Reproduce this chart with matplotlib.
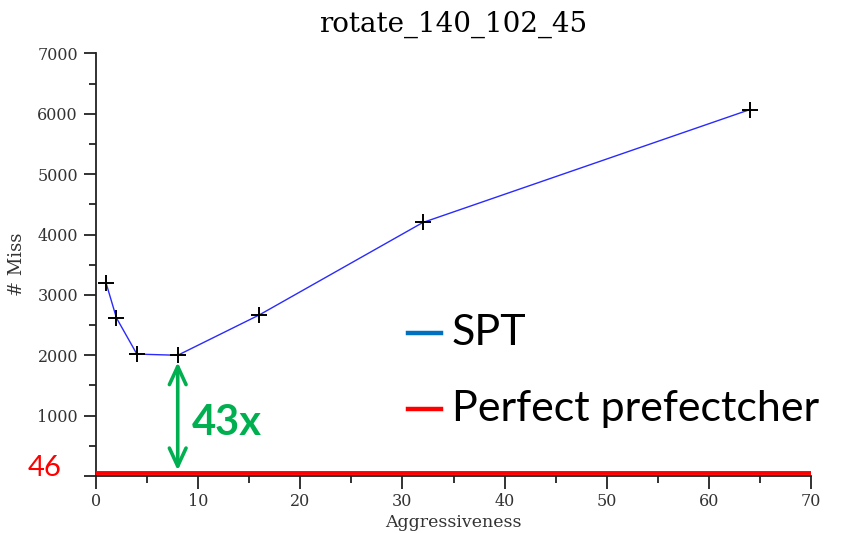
import matplotlib
matplotlib.use("Agg")
import matplotlib.pyplot as plt
from matplotlib.ticker import MultipleLocator, FuncFormatter

# Misses per aggressiveness setting
aggressiveness = [1, 2, 4, 8, 16, 32, 64]
spt_miss = [3190, 2620, 2020, 2000, 2670, 4200, 6070]
perfect_miss = 46
perfect_x = [0, 70]
speedup_label = "43x"

title = "rotate_140_102_45"
x_label = "Aggressiveness"
y_label = "# Miss"
legend_labels = ["SPT", "Perfect prefectcher"]

W, H = 846, 533
fig = plt.figure(figsize=(W / 100, H / 100), dpi=100)
ax = fig.add_axes([96 / W, 1 - 476 / H, (811 - 96) / W, (476 - 53.5) / H])

serif = "DejaVu Serif"
callout = "Lato"

ax.plot(perfect_x, [perfect_miss] * 2, color="#ff0000", lw=2.8, zorder=3,
        solid_capstyle="butt")
ax.plot(aggressiveness, spt_miss, color="#2a2aff", lw=1.0, zorder=4)
ax.plot(aggressiveness, spt_miss, ls="none", marker="+", ms=12, mew=1.4,
        color="black", zorder=5)

ax.set_xlim(0, 70)
ax.set_ylim(0, 7000)
ax.xaxis.set_major_locator(MultipleLocator(10))
ax.xaxis.set_minor_locator(MultipleLocator(5))
ax.yaxis.set_major_locator(MultipleLocator(1000))
ax.yaxis.set_minor_locator(MultipleLocator(500))
# The zero row is labelled by the perfect-prefetcher value instead
ax.yaxis.set_major_formatter(FuncFormatter(lambda v, p: "" if v == 0 else f"{v:.0f}"))

for side in ("top", "right"):
    ax.spines[side].set_visible(False)
for side in ("left", "bottom"):
    ax.spines[side].set_linewidth(1.3)
    ax.spines[side].set_color("#222222")
ax.tick_params(which="major", direction="out", length=9, width=1.3,
               color="#222222", labelsize=11.5, pad=4)
ax.tick_params(axis="x", which="major", pad=3)
ax.tick_params(which="minor", direction="out", length=5, width=1.3,
               color="#222222")
for lab in ax.get_xticklabels() + ax.get_yticklabels():
    lab.set_fontfamily(serif)
    lab.set_color("#333333")

ax.set_title(title, fontfamily=serif, fontsize=20, pad=16)
ax.set_xlabel(x_label, fontfamily=serif, fontsize=12.5, color="#333333", labelpad=3)
ax.set_ylabel(y_label, fontfamily=serif, fontsize=13, color="#333333", labelpad=8)

# Gap between SPT minimum and the perfect prefetcher
ax.annotate("", xy=(8, perfect_miss), xytext=(8, min(spt_miss)),
            arrowprops=dict(arrowstyle="<->,head_length=1.3,head_width=0.6",
                            color="#00b050", lw=2.6, shrinkA=5, shrinkB=2),
            zorder=6)
ax.text(9.4, 880, speedup_label, color="#00b050", fontfamily=callout,
        fontweight="bold", fontsize=30, va="center", ha="left")

ax.annotate(str(perfect_miss), xy=(0, perfect_miss), xytext=(-25, 4),
            textcoords="offset points", color="#ff0000",
            fontfamily=callout, fontsize=21, ha="right", va="center",
            annotation_clip=False)

# Legend drawn as figure annotations
legend_colors = ["#0070c0", "#ff0000"]
legend_y = [333, 409]
for lab, col, yp in zip(legend_labels, legend_colors, legend_y):
    fig.add_artist(plt.Line2D([408 / W, 441 / W], [1 - yp / H] * 2,
                              color=col, lw=3.2))
    fig.text(452 / W, 1 - yp / H, lab, fontfamily=callout, fontsize=31,
             va="center", ha="left", color="black")

fig.savefig("out.png", dpi=100, facecolor="white")
